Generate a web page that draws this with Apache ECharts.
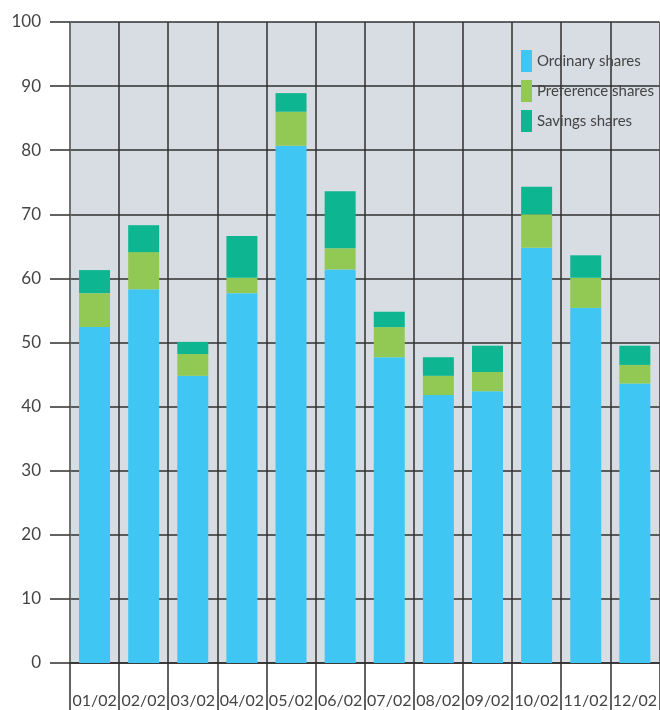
<!DOCTYPE html>
<html>
<head>
    <meta charset="utf-8">
    <script src="https://cdn.jsdelivr.net/npm/echarts@6/dist/echarts.min.js"></script>
    <style>
        html, body { margin: 0; padding: 0; background: #fff; }
        #chart { width: 660px; height: 710px; }
    </style>
</head>
<body>
<div id="chart"></div>
<script>
    // months
    var months = ['01/02', '02/02', '03/02', '04/02', '05/02', '06/02', '07/02', '08/02', '09/02', '10/02', '11/02', '12/02'];
    // stacked pieces
    var ordinary   = [52.4, 58.3, 44.8, 57.7, 80.7, 61.4, 47.7, 41.8, 42.4, 64.8, 55.4, 43.6];
    var preference = [5.3, 5.8, 3.4, 2.4, 5.3, 3.3, 4.7, 3.0, 3.0, 5.2, 4.7, 2.9];
    var savings    = [3.6, 4.2, 1.9, 6.5, 2.9, 8.9, 2.4, 2.9, 4.1, 4.3, 3.5, 3.0];
    var yTicks = { min: 0, max: 100, step: 10 };

    var textColor = '#444';
    var lineColor = '#2f2f2f';
    var fontName = 'Lato';

    var myChart = echarts.init(document.getElementById('chart'));
    var option = {
        animation: false,
        textStyle: { fontFamily: fontName },
        color: ['#40c6f2', '#92c954', '#0db690'],
        grid: {
            left: 70, right: 0, top: 22, bottom: 47,
            show: true, backgroundColor: '#d8dde4', borderWidth: 0
        },
        legend: {
            orient: 'vertical',
            left: 521, top: 50, padding: 0,
            itemWidth: 11, itemHeight: 22, itemGap: 8,
            icon: 'rect',
            textStyle: { color: textColor, fontSize: 15, fontFamily: fontName },
            data: ['Ordinary shares', 'Preference shares', 'Savings shares']
        },
        xAxis: {
            type: 'category',
            data: months,
            axisLine: { lineStyle: { color: lineColor, width: 1.5 } },
            axisTick: { show: true, interval: 0, length: 47, lineStyle: { color: lineColor, width: 1.5 } },
            splitLine: { show: true, interval: 0, lineStyle: { color: lineColor, width: 1.5 } },
            axisLabel: { color: textColor, fontSize: 16, margin: 30, interval: 0 }
        },
        yAxis: {
            type: 'value',
            min: yTicks.min, max: yTicks.max, interval: yTicks.step,
            axisLine: { show: true, lineStyle: { color: '#777', width: 1.5 } },
            axisTick: { show: true, length: 20, lineStyle: { color: lineColor, width: 1.5 } },
            splitLine: { show: true, lineStyle: { color: lineColor, width: 1.5 } },
            axisLabel: { color: textColor, fontSize: 17, margin: 29 }
        },
        series: [
            { name: 'Ordinary shares', type: 'bar', stack: 'all', barWidth: 31, data: ordinary },
            { name: 'Preference shares', type: 'bar', stack: 'all', barWidth: 31, data: preference },
            { name: 'Savings shares', type: 'bar', stack: 'all', barWidth: 31, data: savings }
        ]
    };
    myChart.setOption(option);
</script>
</body>
</html>
